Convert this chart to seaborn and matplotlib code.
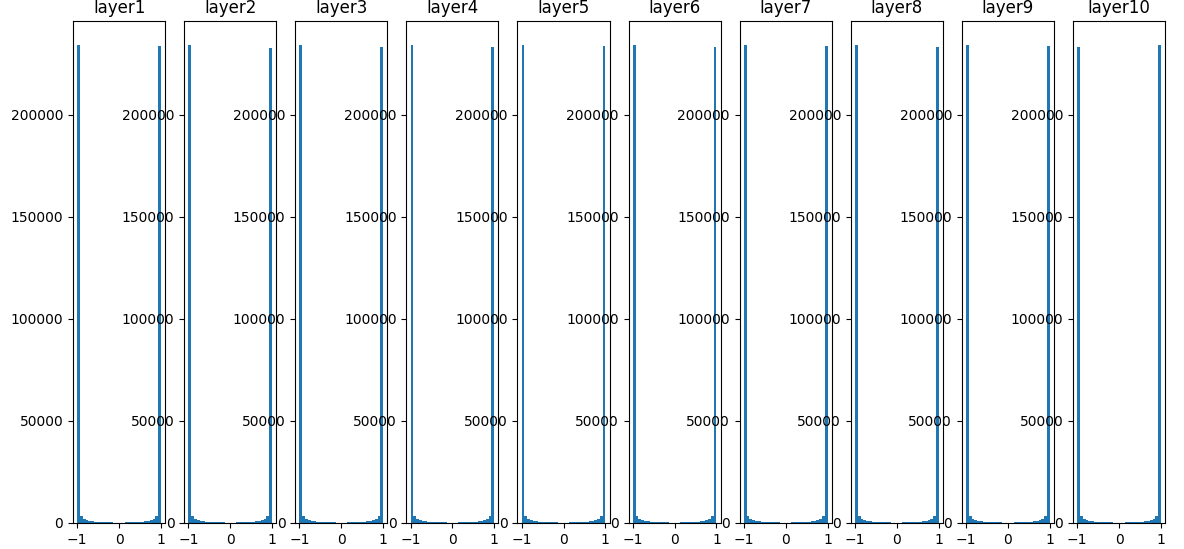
import numpy as np
import pandas as pd
import matplotlib
matplotlib.use("Agg")
import matplotlib.pyplot as plt
import seaborn as sns

# Layer names
layers = ["layer1", "layer2", "layer3", "layer4", "layer5",
          "layer6", "layer7", "layer8", "layer9", "layer10"]

# Counts of the bin at -1 and at +1 for each layer
left_peak = [234300, 234300, 234300, 234300, 234300,
             234300, 234300, 234300, 234300, 233300]
right_peak = [233800, 232800, 233300, 233300, 233800,
              233300, 233800, 233300, 233800, 234300]

# Counts of the interior bins (bins 2..29 of 30 over [-1, 1]), shared shape
inner_counts = [3200, 1900, 1300, 1000, 820, 700, 620, 560, 500, 440,
                300, 240, 200, 180,
                180, 200, 240, 300, 440, 500, 560, 620, 700, 820,
                1000, 1300, 1900, 3200]

x_ticks = [-1, 0, 1]
y_ticks = [0, 50000, 100000, 150000, 200000]

n_bins = 30
edges = np.linspace(-1, 1, n_bins + 1)
centers = (edges[:-1] + edges[1:]) / 2

fig, axes = plt.subplots(1, 10, figsize=(11.84, 5.49), dpi=100)
fig.subplots_adjust(left=0.0617, right=0.984, top=0.9617, bottom=0.0474,
                    wspace=0.207)

for i, ax in enumerate(axes):
    counts = [left_peak[i]] + inner_counts + [right_peak[i]]
    df = pd.DataFrame({"x": centers, "w": counts})
    sns.histplot(data=df, x="x", weights="w", bins=n_bins, binrange=(-1, 1),
                 ax=ax, color="#1f77b4", alpha=1, edgecolor="none",
                 linewidth=0)
    ax.set_title(layers[i], fontsize=12)
    ax.set_xlabel("")
    ax.set_ylabel("")
    ax.set_xticks(x_ticks)
    ax.set_yticks(y_ticks)
    ax.set_xlim(-1.1, 1.1)
    ax.set_ylim(0, 246000)
    ax.tick_params(labelsize=10)

fig.savefig("out.png", dpi=100)
